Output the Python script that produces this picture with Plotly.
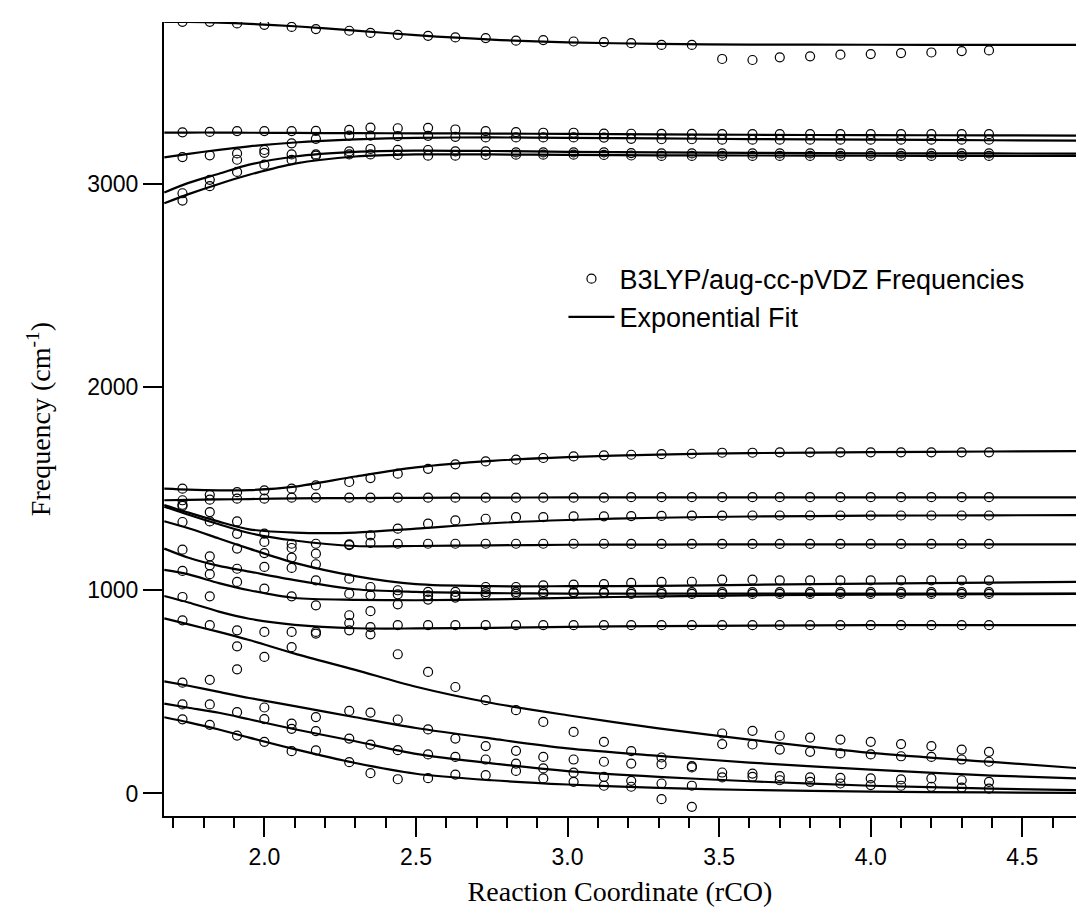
import plotly.graph_objects as go

# Reaction coordinate values of the computed points
rco = [1.73, 1.82, 1.91, 2.00, 2.09, 2.17, 2.28, 2.35, 2.44, 2.54, 2.63, 2.73, 2.83, 2.92,
       3.02, 3.12, 3.21, 3.31, 3.41, 3.51, 3.61, 3.70, 3.80, 3.90, 4.00, 4.10, 4.20, 4.30, 4.39]

# B3LYP/aug-cc-pVDZ frequencies (cm-1), sorted high -> low at each point
nu01 = [3798, 3798, 3790, 3783, 3773, 3762, 3754, 3743, 3734, 3729, 3721, 3718, 3705, 3708, 3701,
        3698, 3693, 3684, 3684, 3615, 3610, 3623, 3628, 3636, 3639, 3644, 3647, 3654, 3657]
nu02 = [3254, 3256, 3260, 3260, 3260, 3261, 3266, 3277, 3274, 3276, 3268, 3260, 3255, 3252, 3252,
        3248, 3247, 3246, 3246, 3245, 3245, 3245, 3245, 3245, 3245, 3245, 3245, 3245, 3245]
nu03 = [3132, 3141, 3150, 3167, 3200, 3222, 3238, 3238, 3235, 3237, 3232, 3229, 3229, 3229, 3229,
        3228, 3222, 3220, 3220, 3218, 3218, 3218, 3218, 3218, 3218, 3218, 3218, 3218, 3218]
nu04 = [2954, 3020, 3119, 3153, 3145, 3145, 3160, 3172, 3168, 3167, 3160, 3160, 3155, 3155, 3155,
        3155, 3152, 3150, 3150, 3150, 3150, 3150, 3150, 3150, 3150, 3150, 3150, 3150, 3150]
nu05 = [2918, 2989, 3059, 3095, 3118, 3139, 3145, 3145, 3143, 3139, 3139, 3143, 3144, 3144, 3144,
        3143, 3140, 3138, 3138, 3138, 3138, 3138, 3138, 3138, 3138, 3138, 3138, 3138, 3138]
nu06 = [1500, 1470, 1483, 1492, 1500, 1516, 1533, 1552, 1574, 1598, 1620, 1634, 1643, 1651, 1659,
        1664, 1667, 1670, 1672, 1677, 1677, 1679, 1679, 1679, 1679, 1679, 1679, 1679, 1679]
nu07 = [1443, 1446, 1451, 1451, 1456, 1456, 1456, 1456, 1456, 1456, 1456, 1456, 1456, 1456, 1456,
        1456, 1458, 1458, 1458, 1458, 1458, 1458, 1458, 1458, 1458, 1458, 1458, 1458, 1458]
nu08 = [1421, 1385, 1339, 1279, 1229, 1229, 1226, 1270, 1303, 1328, 1344, 1352, 1360, 1360, 1364,
        1364, 1365, 1366, 1367, 1367, 1368, 1368, 1368, 1368, 1368, 1368, 1368, 1368, 1368]
nu09 = [1415, 1339, 1278, 1238, 1208, 1180, 1222, 1233, 1229, 1229, 1229, 1229, 1229, 1229, 1229,
        1229, 1228, 1228, 1228, 1228, 1228, 1228, 1228, 1228, 1228, 1228, 1228, 1228, 1228]
nu10 = [1336, 1167, 1205, 1183, 1161, 1128, 1057, 1016, 1000, 992, 992, 1016, 1016, 1024, 1028,
        1030, 1036, 1041, 1042, 1052, 1052, 1049, 1049, 1049, 1049, 1049, 1049, 1049, 1049]
nu11 = [1200, 1123, 1106, 1115, 1110, 1049, 983, 975, 980, 975, 975, 991, 991, 991, 991,
        991, 991, 991, 991, 991, 991, 991, 991, 991, 991, 991, 991, 991, 991]
nu12 = [1095, 1079, 1041, 1008, 970, 926, 877, 897, 931, 954, 964, 980, 983, 983, 987,
        987, 982, 982, 982, 982, 982, 982, 982, 982, 982, 982, 982, 982, 982]
nu13 = [967, 970, 803, 795, 795, 795, 839, 819, 828, 828, 828, 828, 828, 828, 828,
        828, 828, 828, 828, 828, 828, 828, 828, 828, 828, 828, 828, 828, 828]
nu14 = [852, 828, 724, 672, 720, 787, 803, 783, 685, 598, 524, 459, 410, 352, 303,
        254, 208, 177, 134, 295, 308, 284, 275, 265, 254, 243, 233, 216, 205]
nu15 = [545, 559, 611, 423, 344, 376, 406, 398, 364, 315, 270, 233, 210, 180, 167,
        156, 147, 144, 128, 243, 241, 216, 205, 197, 192, 183, 180, 167, 156]
nu16 = [438, 438, 400, 366, 318, 307, 270, 240, 213, 192, 180, 167, 147, 123, 102,
        82, 62, 49, 38, 103, 98, 85, 79, 77, 74, 69, 74, 65, 57]
nu17 = [365, 338, 285, 254, 208, 212, 154, 100, 70, 75, 93, 90, 111, 74, 57,
        38, 33, -28, -66, 79, 82, 65, 57, 49, 41, 38, 33, 29, 24]

# Exponential fit curves, read at these reaction-coordinate values
fit_x = [1.67, 1.75, 1.85, 1.95, 2.10, 2.30, 2.50, 2.75, 3.00, 3.30, 3.60, 4.00, 4.40, 4.68]
fit01 = [3798, 3797, 3794, 3788, 3776, 3755, 3732, 3710, 3697, 3689, 3686, 3685, 3684, 3684]
fit02 = [3253, 3253, 3253, 3252, 3251, 3250, 3249, 3248, 3246, 3244, 3242, 3240, 3239, 3238]
fit03 = [3131, 3148, 3168, 3185, 3204, 3219, 3227, 3229, 3227, 3224, 3221, 3218, 3215, 3213]
fit04 = [2958, 3005, 3050, 3095, 3135, 3158, 3164, 3162, 3158, 3155, 3153, 3151, 3150, 3149]
fit05 = [2905, 2950, 3000, 3045, 3100, 3135, 3145, 3145, 3143, 3141, 3140, 3139, 3138, 3138]
fit06 = [1500, 1495, 1492, 1493, 1510, 1560, 1605, 1637, 1655, 1668, 1675, 1680, 1683, 1685]
fit07 = [1443, 1445, 1447, 1449, 1452, 1454, 1455, 1456, 1457, 1457, 1457, 1457, 1457, 1457]
fit08 = [1420, 1382, 1338, 1300, 1284, 1284, 1303, 1330, 1346, 1357, 1363, 1367, 1369, 1370]
fit09 = [1412, 1372, 1325, 1282, 1245, 1218, 1218, 1221, 1224, 1225, 1226, 1226, 1226, 1226]
fit10 = [1340, 1305, 1255, 1205, 1135, 1070, 1030, 1020, 1020, 1022, 1027, 1033, 1038, 1041]
fit11 = [1205, 1160, 1120, 1092, 1050, 1005, 992, 986, 984, 984, 984, 984, 984, 984]
fit12 = [1100, 1078, 1035, 1000, 962, 953, 951, 955, 963, 970, 975, 979, 981, 982]
fit13 = [972, 940, 895, 860, 830, 813, 812, 815, 820, 824, 826, 828, 828, 828]
fit14 = [862, 832, 795, 755, 688, 608, 525, 445, 385, 320, 265, 200, 155, 125]
fit15 = [552, 530, 500, 470, 430, 375, 322, 270, 222, 185, 152, 117, 88, 74]
fit16 = [442, 422, 397, 365, 316, 257, 195, 148, 110, 82, 60, 38, 24, 16]
fit17 = [375, 350, 315, 275, 218, 150, 97, 65, 44, 27, 17, 9, 5, 3]

modes = [nu01, nu02, nu03, nu04, nu05, nu06, nu07, nu08, nu09, nu10, nu11, nu12, nu13,
         nu14, nu15, nu16, nu17]
fits = [fit01, fit02, fit03, fit04, fit05, fit06, fit07, fit08, fit09, fit10, fit11, fit12,
        fit13, fit14, fit15, fit16, fit17]

pts_x, pts_y = [], []
for m in modes:
    pts_x += rco
    pts_y += m

fig = go.Figure()
fig.add_trace(go.Scatter(
    x=pts_x, y=pts_y, mode="markers", name="B3LYP/aug-cc-pVDZ Frequencies",
    marker=dict(symbol="circle-open", size=9, color="black", line=dict(width=1.2, color="black")),
))
for i, f in enumerate(fits):
    fig.add_trace(go.Scatter(
        x=fit_x, y=f, mode="lines", name="Exponential Fit", showlegend=(i == 0),
        line=dict(color="black", width=2.2, shape="spline", smoothing=0.8),
    ))

sans = "Arial, Liberation Sans, sans-serif"
serif = "Times New Roman, Liberation Serif, serif"

fig.update_layout(
    width=1076, height=911,
    margin=dict(l=164, r=0, t=22, b=95),
    paper_bgcolor="white", plot_bgcolor="white",
    showlegend=True,
    legend=dict(x=0.438, y=0.707, xanchor="left", yanchor="top",
                font=dict(family=sans, size=27, color="black"),
                bgcolor="rgba(0,0,0,0)", itemwidth=46, tracegroupgap=0),
    xaxis=dict(
        range=[1.669, 4.677], showgrid=False, zeroline=False,
        showline=True, linecolor="black", linewidth=2,
        ticks="outside", ticklen=19, tickwidth=2, tickcolor="black",
        tick0=2.0, dtick=0.5, tickformat=".1f",
        tickfont=dict(family=sans, size=23, color="black"),
        minor=dict(dtick=0.1, tick0=2.0, ticks="outside", ticklen=10, tickwidth=2, tickcolor="black"),
        title=dict(text="Reaction Coordinate (rCO)", font=dict(family=serif, size=28, color="black"),
                   standoff=13),
    ),
    yaxis=dict(
        range=[-111, 3797], showgrid=False, zeroline=False,
        showline=True, linecolor="black", linewidth=2,
        ticks="outside", ticklen=19, tickwidth=2, tickcolor="black",
        tickvals=[0, 1000, 2000, 3000],
        tickfont=dict(family=sans, size=23, color="black"),
        title=dict(text="Frequency (cm<sup>-1</sup>)", font=dict(family=serif, size=28, color="black"),
                   standoff=28),
    ),
)

fig.write_html("out.html", config={"displayModeBar": False},
               post_script="document.body.style.margin='0';document.body.style.overflow='hidden';")
